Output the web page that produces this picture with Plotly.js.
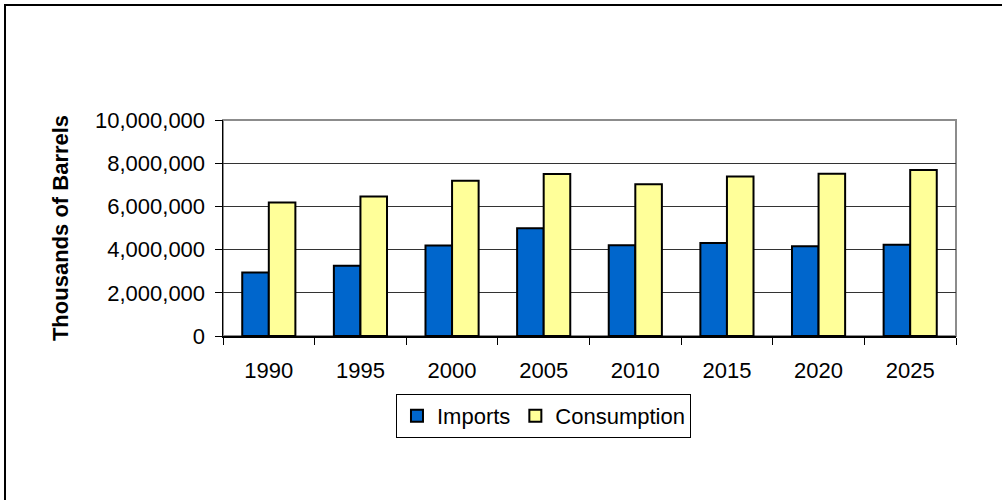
<!DOCTYPE html>
<html>
<head>
<meta charset="utf-8">
<script src="https://cdn.plot.ly/plotly-3.0.1.min.js"></script>
<style>html,body{margin:0;padding:0;background:#fff;}#chart{width:1002px;height:500px;}</style>
</head>
<body>
<div id="chart"></div>
<script>
var years = ['1990','1995','2000','2005','2010','2015','2020','2025'];
var imports = [2940000, 3250000, 4190000, 4990000, 4200000, 4300000, 4160000, 4220000];
var consumption = [6180000, 6460000, 7190000, 7500000, 7030000, 7390000, 7510000, 7680000];
var yTickVals = [0, 2000000, 4000000, 6000000, 8000000, 10000000];
var yTickText = ['0', '2,000,000', '4,000,000', '6,000,000', '8,000,000', '10,000,000'];

var font = '"Liberation Sans", Arial, sans-serif';
var traces = [
  {type:'bar', name:'Imports', x:years, y:imports,
   marker:{color:'#0066CC', line:{color:'#000000', width:2}}},
  {type:'bar', name:'Consumption', x:years, y:consumption,
   marker:{color:'#FFFF99', line:{color:'#000000', width:2}}}
];
var layout = {
  width:1002, height:500,
  margin:{l:223, r:46, t:120, b:164},
  paper_bgcolor:'#ffffff', plot_bgcolor:'#ffffff',
  font:{family:font, size:22, color:'#000000'},
  barmode:'group', bargap:0.42, bargroupgap:0,
  showlegend:true,
  legend:{orientation:'h', x:0.236, xanchor:'left', y:-0.268, yanchor:'top',
          bordercolor:'#000000', borderwidth:1, font:{family:font, size:22},
          itemwidth:30, tracegroupgap:0},
  xaxis:{type:'category', showline:true, linecolor:'#000000', linewidth:1.5,
         ticks:'outside', tickson:'boundaries', ticklen:7, tickcolor:'#000000',
         showgrid:false, ticklabelstandoff:14, fixedrange:true},
  yaxis:{range:[0,10000000], tickvals:yTickVals, ticktext:yTickText,
         showline:true, linecolor:'#000000', linewidth:1.5,
         ticks:'outside', ticklen:7, tickcolor:'#000000',
         showgrid:true, gridcolor:'#333333', gridwidth:1, zeroline:false,
         ticklabelstandoff:5,
         title:{text:'<b>Thousands of Barrels</b>', font:{family:font, size:22}, standoff:20},
         fixedrange:true},
  shapes:[
    {type:'rect', xref:'paper', yref:'paper', x0:0, x1:1, y0:0, y1:1,
     line:{color:'#8c8c8c', width:2}, layer:'below'},
    {type:'rect', xref:'paper', yref:'paper', x0:-0.2974, x1:1.08, y0:-0.85, y1:1.532,
     line:{color:'#000000', width:2}, layer:'below'}
  ]
};
Plotly.newPlot('chart', traces, layout, {displayModeBar:false, staticPlot:true});
</script>
</body>
</html>
